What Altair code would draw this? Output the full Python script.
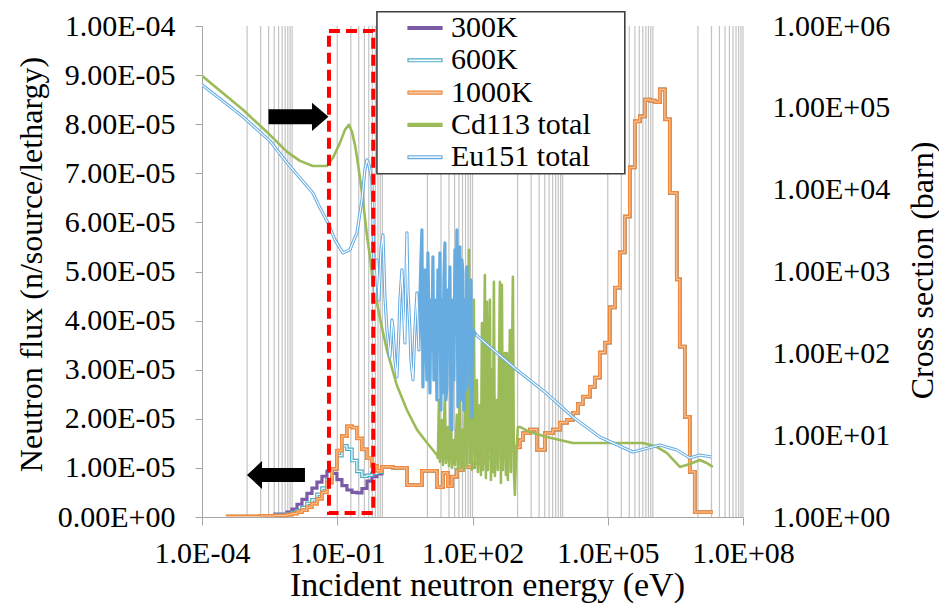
import altair as alt
import pandas as pd

# ---------------- data ----------------
# neutron flux: lower group boundaries (eV) and values (n/source/lethargy)
thermal_e = [3.4e-4, 1.93e-3, 4.13e-3, 7.7e-3, 9.9e-3, 0.0128, 0.0165, 0.0213, 0.0275, 0.0355,
             0.0458, 0.0591, 0.0762, 0.0984, 0.127, 0.164, 0.212, 0.273, 0.353, 0.456, 0.588, 0.759]
flux_300_thermal = [1e-7, 3e-7, 6e-7, 1.0e-6, 1.6e-6, 2.6e-6, 3.6e-6, 4.8e-6, 5.9e-6, 7.1e-6,
                    8.3e-6, 9.3e-6, 8.9e-6, 7.6e-6, 6.4e-6, 5.5e-6, 5.0e-6, 4.9e-6, 5.8e-6, 7.3e-6, 8.2e-6, 8.8e-6]
flux_600_thermal = [1e-7, 2e-7, 4e-7, 6e-7, 9e-7, 1.3e-6, 1.9e-6, 2.8e-6, 3.5e-6, 4.6e-6,
                    5.9e-6, 7.6e-6, 9.8e-6, 1.25e-5, 1.45e-5, 1.38e-5, 1.15e-5, 9.3e-6, 8.3e-6, 8.5e-6, 8.9e-6, 9.1e-6]
flux_1000_thermal = [1e-7, 2e-7, 3e-7, 5e-7, 7e-7, 1.0e-6, 1.4e-6, 2.0e-6, 2.7e-6, 3.7e-6,
                     5.0e-6, 7.0e-6, 9.8e-6, 1.35e-5, 1.65e-5, 1.85e-5, 1.82e-5, 1.6e-5, 1.38e-5, 1.2e-5, 1.04e-5, 9.4e-6]
common_e = [0.98, 1.72, 3.51, 7.55, 16.3, 22.1, 28.5, 34.9, 45.1, 61.2, 102, 170, 348, 675, 1125, 1312,
            1877, 2680, 4030, 6060, 8670, 1.24e4, 1.68e4, 2.17e4, 2.8e4, 4.01e4, 5.17e4, 6.68e4, 8.63e4,
            1.11e5, 1.44e5, 1.85e5, 2.39e5, 3.09e5, 3.99e5, 5.15e5, 6.65e5, 8.58e5, 1.11e6, 1.43e6, 1.85e6,
            2.38e6, 3.4e6, 3.97e6, 5.13e6, 6.61e6, 8.53e6, 2.14e7]
flux_common = [1.02e-5, 1.0e-5, 6.5e-6, 9.4e-6, 6.1e-6, 9.0e-6, 6.3e-6, 8.2e-6, 9.6e-6, 1.02e-5, 1.1e-5,
               1.2e-5, 1.25e-5, 1.42e-5, 1.57e-5, 1.71e-5, 1.78e-5, 1.37e-5, 1.71e-5, 1.78e-5, 1.92e-5,
               1.98e-5, 2.12e-5, 2.3e-5, 2.45e-5, 2.65e-5, 2.84e-5, 3.35e-5, 3.55e-5, 4.27e-5, 4.67e-5,
               5.39e-5, 6.12e-5, 7.12e-5, 8.06e-5, 8.16e-5, 8.5e-5, 8.48e-5, 8.45e-5, 8.71e-5, 8.1e-5,
               6.6e-5, 4.84e-5, 3.47e-5, 2.04e-5, 9.2e-6, 1.0e-6, 1.0e-6]

# Cd113 total cross section (barn)
cd_e = [1e-4, 8.1e-4, 3.2e-3, 7.7e-3, 0.0149, 0.0289, 0.0413, 0.0591, 0.0803, 0.115, 0.148, 0.181, 0.212,
        0.247, 0.273, 0.319, 0.371, 0.455, 0.531, 0.62, 0.885, 1.26, 2.09, 3.51, 5.9, 9.9, 16.3,
        17.1, 18.0, 18.9, 21.0, 22.1, 24.4, 25.7, 28.5, 30.0, 33.2, 34.9, 38.7, 40.7, 45.1, 47.5, 52.6,
        55.3, 61.2, 64.4, 71.4, 75.1, 83.2, 87.5, 92.2, 97.0, 107, 113, 125, 132, 146, 154, 162, 170,
        188, 198, 209, 219, 243, 256, 269, 283, 298, 314, 348, 366, 405, 427, 449, 472, 523, 550, 579,
        609, 675, 710, 787, 828, 871, 917, 1016, 1125,
        1875, 4467, 1.68e4, 6.68e4, 6.0e5, 1.11e6, 2.04e6, 3.97e6, 6.61e6, 1.10e7, 1.57e7, 2.14e7]
cd_xs = [2.46e5, 9.46e4, 4.68e4, 2.9e4, 2.25e4, 1.95e4, 1.95e4, 1.95e4, 2.45e4, 3.73e4, 5.38e4, 6.2e4,
         5.09e4, 3.53e4, 2.52e4, 1.39e4, 7.5e3, 2.8e3, 1.51e3, 726, 271, 110, 41, 20.3, 11.6, 8.03, 5.73,
         5.26, 26.9, 4.70, 15.3, 4.32, 31.0, 4.57, 12.6, 4.20, 23.4, 3.97, 8.73, 4.32, 17.7, 3.76, 35.7,
         3.97, 11.6, 3.76, 193, 4.20, 1840, 4.57, 101, 3.76, 450, 3.97, 47.3, 3.55, 23.4, 3.26, 235, 3.76,
         908, 3.0, 425, 3.76, 450, 2.83, 62.7, 3.55, 746, 3.17, 26.9, 3.76, 746, 2.6, 686, 3.76, 101, 3.26,
         101, 2.83, 193, 3.55, 859, 3.76, 1.86, 4.98, 12.6, 12.6,
         10.9, 9.5, 8.03, 8.03, 8.03, 7.38, 6.06, 4.09, 4.45, 4.98, 4.57, 4.09]

# Eu151 total cross section (barn)
eu_e = [1e-4, 8.1e-4, 3.2e-3, 7.7e-3, 0.0149, 0.0289, 0.0413, 0.0622, 0.0889, 0.134, 0.191, 0.273, 0.353,
        0.411, 0.455, 0.505, 0.588,
        0.685, 0.759, 0.841, 0.931, 1.031, 1.142, 1.265, 1.474, 1.633, 1.718, 1.903, 2.108, 2.334, 2.455,
        2.72, 3.013, 3.17, 3.337, 3.512, 3.695, 4.093, 4.31, 4.77, 5.28, 5.85, 6.48,
        6.82, 7.18, 7.55, 7.95, 8.36, 8.80, 9.26, 9.75, 10.26, 10.80,
        11.36, 11.96, 12.58, 13.24, 13.94, 14.67, 15.43, 16.24, 17.09, 17.99,
        18.93, 19.92, 20.97, 22.07, 23.22, 24.43, 25.72, 27.06, 28.48, 29.98,
        31.55, 33.2, 34.94, 36.77, 38.7, 40.73, 42.85, 45.1, 47.47, 49.94,
        52.56, 55.32, 58.21, 61.25, 64.46, 67.84, 71.39, 75.1, 79.07, 83.21,
        87.57, 92.15, 96.98, 102.1,
        120, 243, 965, 4030, 1.68e4, 6.68e4, 3.6e5, 1.43e6, 3.4e6, 6.61e6, 1.10e7, 2.03e7]
eu_xs = [1.91e5, 7.76e4, 3.95e4, 2.13e4, 1.39e4, 9.1e3, 6.0e3, 3.93e3, 2.43e3, 1.69e3, 1.84e3, 2.96e3,
         7.5e3, 1.75e4, 2.31e4, 2.01e4, 1.32e4,
         450, 1386, 450, 1836, 2800, 489, 193, 90.4, 256, 210, 83.0, 51.5, 193, 450, 1046, 256, 134, 789,
         2965, 595, 193, 83.0, 47.3, 193, 547, 110,
         450, 1386, 3225, 38.8, 450, 1046, 146, 47.3, 1688, 256,
         32.8, 450, 110, 1508, 47.3, 450, 146, 26.9, 1046, 110,
         1688, 20.3, 450, 32.8, 789, 2237, 26.9, 38.8, 595, 146,
         1138, 15.3, 11.6, 450, 47.3, 1836, 193, 3225, 22.1, 450,
         2000, 26.9, 1386, 962, 20.3, 450, 35.7, 1138, 110, 450,
         38.8, 789, 16.7, 193,
         168, 120, 62.7, 33.7, 16.7, 9.5, 6.23, 7.59, 6.59, 5.26, 5.73, 5.41]
# the dense part of the Eu151 resonances is drawn as a solid band (no light centre line)
eu_dense_range = [6.7, 110]

# vertical grid lines (eV) : minor lines shown in every other decade
grid_decades = [-3, -1, 1, 3, 5, 7]
grid_e = [m * 10.0 ** k for k in grid_decades for m in range(1, 11)]

major_e = [1e-4, 1e-1, 1e2, 1e5, 1e8]
flux_ticks = [0, 1e-5, 2e-5, 3e-5, 4e-5, 5e-5, 6e-5, 7e-5, 8e-5, 9e-5, 1e-4]
xs_ticks = [1, 10, 100, 1e3, 1e4, 1e5, 1e6]

series_names = ["300K", "600K", "1000K", "Cd113 total", "Eu151 total"]
series_colors = ["#7b5ba6", "#4bacc6", "#ef8a3e", "#9bbb59", "#67ace1"]
inner_colors = ["#7b5ba6", "#ffffff", "#f9c9a3", "#9bbb59", "#e8f2fb"]

# annotations (data coordinates: energy in eV, flux on the left axis)
box_e = [0.0655, 0.628]
box_flux = [8.1e-7, 9.9e-5]
arrow_right_at = [0.0138, 8.15e-5]
arrow_left_at = [0.00437, 8.55e-6]
legend_frame_e = [0.759, 2.39e5]
legend_frame_flux = [6.99e-5, 1.029e-4]

# ---------------- tables ----------------
assert len(common_e) == len(flux_common)
assert len(cd_e) == len(cd_xs) and len(eu_e) == len(eu_xs)
rows = []
for name, th in zip(series_names[:3], [flux_300_thermal, flux_600_thermal, flux_1000_thermal]):
    for e, v in zip(thermal_e + common_e, th + flux_common):
        rows.append({"E": e, "flux": v, "series": name})
flux_df = pd.DataFrame(rows)
cd_df = pd.DataFrame({"E": cd_e, "xs": cd_xs})
eu_df = pd.DataFrame({"E": eu_e, "xs": eu_xs})
eu_df["part"] = ["low" if e < eu_dense_range[0] else ("dense" if e < eu_dense_range[1] else "high")
                 for e in eu_e]
grid_df = pd.DataFrame({"E": grid_e})
legend_df = pd.DataFrame({"series": series_names, "E": [1.0] * 5, "flux": [0.0] * 5})
box_df = pd.DataFrame({"e0": [box_e[0]], "e1": [box_e[1]], "f0": [box_flux[0]], "f1": [box_flux[1]]})
frame_df = pd.DataFrame({"e0": [legend_frame_e[0]], "e1": [legend_frame_e[1]],
                         "f0": [legend_frame_flux[0]], "f1": [legend_frame_flux[1]]})
ar_df = pd.DataFrame({"E": [arrow_right_at[0]], "flux": [arrow_right_at[1]]})
al_df = pd.DataFrame({"E": [arrow_left_at[0]], "flux": [arrow_left_at[1]]})

FONT = "Liberation Serif"
AX = "#a6a6a6"

x_scale = alt.Scale(type="log", domain=[1e-4, 1e8], nice=False)
x_axis = alt.Axis(
    values=major_e, grid=False, tickSize=8, tickColor=AX, domainColor=AX,
    labelExpr="'1.0E' + (datum.value < 1 ? '-' : '+') + format(abs(round(log(datum.value) / LN10)), '02d')",
    labelFont=FONT, labelFontSize=30, labelColor="black", labelBaseline="alphabetic",
    labelPadding=37, labelFlush=False, labelOverlap=False,
    title="Incident neutron energy (eV)", titleFont=FONT, titleFontSize=34, titleFontWeight="normal",
    titleColor="black", titleX=285, titleY=78, titleBaseline="alphabetic", titleAlign="center",
)


def X(field):
    return alt.X(field, type="quantitative", scale=x_scale, axis=x_axis)


flux_scale = alt.Scale(domain=[0, 1e-4], nice=False, zero=True)
flux_axis = alt.Axis(
    orient="left", values=flux_ticks, grid=False, tickSize=7, tickColor=AX, domainColor=AX,
    labelExpr="datum.value == 0 ? '0.00E+00' : format(datum.value / pow(10, floor(log(datum.value) / LN10 + 1e-6)), '.2f') + 'E-' + format(-floor(log(datum.value) / LN10 + 1e-6), '02d')",
    labelFont=FONT, labelFontSize=30, labelColor="black", labelPadding=20, labelAlign="right",
    labelBaseline="middle", labelFlush=False, labelOverlap=False,
    title="Neutron flux (n/source/lethargy)", titleFont=FONT, titleFontSize=32, titleFontWeight="normal",
    titleColor="black", titleAngle=270, titleX=-171, titleY=238, titleAlign="center", titleBaseline="middle",
)
xs_scale = alt.Scale(type="log", domain=[1, 1e6], nice=False)
xs_axis = alt.Axis(
    orient="right", values=xs_ticks, grid=False, ticks=False, domain=False,
    labelExpr="'1.00E+' + format(round(log(datum.value) / LN10), '02d')",
    labelFont=FONT, labelFontSize=30, labelColor="black", labelPadding=29, labelAlign="left",
    labelBaseline="middle", labelFlush=False, labelOverlap=False,
    title="Cross section (barn)", titleFont=FONT, titleFontSize=32, titleFontWeight="normal",
    titleColor="black", titleAngle=270, titleX=179, titleY=244, titleAlign="center", titleBaseline="middle",
)

Yf = alt.Y("flux", type="quantitative", scale=flux_scale, axis=flux_axis)
Yx = alt.Y("xs", type="quantitative", scale=xs_scale, axis=xs_axis)

legend = alt.Legend(
    title=None, orient="none", legendX=175, legendY=-14, direction="vertical",
    strokeColor="transparent", padding=1, rowPadding=2.3,
    symbolType="M-2,-0.17L2,-0.17L2,0.17L-2,0.17Z", symbolSize=289, symbolStrokeWidth=1.2,
    symbolOffset=32, labelOffset=11, symbolOpacity=1,
    labelFont=FONT, labelFontSize=30, labelColor="black", labelLimit=400,
)

grid = alt.Chart(grid_df).mark_rule(color="#c4c4c4", strokeWidth=1.2).encode(x=X("E"))

# invisible layer that only carries the legend (stroke = outer colour, fill = inner colour)
leg = alt.Chart(legend_df).transform_filter("false").mark_point(filled=False, strokeWidth=1.2, opacity=1).encode(
    x=X("E"), y=Yf,
    color=alt.Color("series:N", scale=alt.Scale(domain=series_names, range=series_colors), legend=legend),
    fill=alt.Fill("series:N", scale=alt.Scale(domain=series_names, range=inner_colors), legend=legend),
)

fb = alt.Chart(flux_df)
step = dict(interpolate="step-after", strokeJoin="miter", clip=True)
l300 = fb.transform_filter(alt.datum.series == "300K").mark_line(color=series_colors[0], strokeWidth=3.2, **step).encode(x=X("E"), y=Yf)
l600o = fb.transform_filter(alt.datum.series == "600K").mark_line(color=series_colors[1], strokeWidth=3.6, **step).encode(x=X("E"), y=Yf)
l600i = fb.transform_filter(alt.datum.series == "600K").mark_line(color="white", strokeWidth=1.2, **step).encode(x=X("E"), y=Yf)
l1000o = fb.transform_filter(alt.datum.series == "1000K").mark_line(color=series_colors[2], strokeWidth=3.8, **step).encode(x=X("E"), y=Yf)
l1000i = fb.transform_filter(alt.datum.series == "1000K").mark_line(color=inner_colors[2], strokeWidth=1.0, **step).encode(x=X("E"), y=Yf)
flux_group = alt.layer(leg, l300, l600o, l600i, l1000o, l1000i)

cd = alt.Chart(cd_df).mark_line(color=series_colors[3], strokeWidth=2.6, strokeJoin="round", clip=True).encode(x=X("E"), y=Yx)
euo = alt.Chart(eu_df).mark_line(color=series_colors[4], strokeWidth=3.2, strokeJoin="round", clip=True).encode(x=X("E"), y=Yx)
eui = alt.Chart(eu_df).transform_filter(alt.datum.part != "dense").mark_line(
    color="white", strokeWidth=1.1, strokeJoin="round", clip=True).encode(x=X("E"), y=Yx, detail="part:N")
xs_group = alt.layer(cd, euo, eui)

Ya = lambda f: alt.Y(f, type="quantitative", scale=flux_scale, axis=None)
frame = alt.Chart(frame_df).mark_rect(fill="white", stroke="#404040", strokeWidth=1.6).encode(
    x=X("e0"), x2="e1", y=Ya("f0"), y2="f1")
box = alt.Chart(box_df).mark_rect(fillOpacity=0, stroke="#ff0000", strokeWidth=4, strokeDash=[11, 6]).encode(
    x=X("e0"), x2="e1", y=Ya("f0"), y2="f1")
arrow_r = alt.Chart(ar_df).mark_point(
    shape="M-1,-0.25L0.45,-0.25L0.45,-0.47L1,0L0.45,0.47L0.45,0.25L-1,0.25Z",
    size=3600, filled=True, color="black", opacity=1, strokeWidth=0).encode(x=X("E"), y=Ya("flux"))
arrow_l = alt.Chart(al_df).mark_point(
    shape="M1,-0.24L-0.48,-0.24L-0.48,-0.48L-1,0L-0.48,0.48L-0.48,0.24L1,0.24Z",
    size=3364, filled=True, color="black", opacity=1, strokeWidth=0).encode(x=X("E"), y=Ya("flux"))
annot = alt.layer(frame, box, arrow_r, arrow_l)

chart = alt.layer(grid, flux_group, xs_group, annot).resolve_scale(y="independent").properties(
    width=541, height=491,
    padding={"left": 202, "top": 26, "right": 196, "bottom": 98},
    autosize=alt.AutoSizeParams(type="none"),
    background="white",
).configure_view(stroke=None)

chart.save("out.html", embed_options={"renderer": "svg", "actions": False})
